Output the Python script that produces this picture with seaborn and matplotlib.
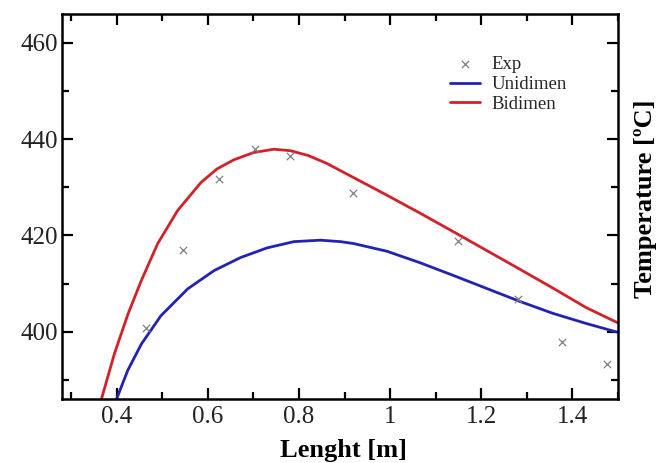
import matplotlib
matplotlib.use("Agg")
import matplotlib.pyplot as plt
import seaborn as sns
import pandas as pd
from matplotlib.ticker import MultipleLocator, FixedLocator

# ---- data ----
exp_x = [0.464, 0.545, 0.624, 0.703, 0.781, 0.919, 1.149, 1.280, 1.378, 1.476]
exp_y = [400.8, 417.0, 431.7, 438.0, 436.5, 428.8, 418.9, 406.8, 397.9, 393.2]

uni_x = [0.399, 0.424, 0.454, 0.497, 0.556, 0.614, 0.672, 0.730, 0.789, 0.847,
         0.891, 0.920, 0.993, 1.066, 1.138, 1.211, 1.284, 1.357, 1.430, 1.498]
uni_y = [385.8, 391.9, 397.4, 403.3, 408.9, 412.7, 415.4, 417.4, 418.7, 419.0,
         418.7, 418.3, 416.7, 414.3, 411.7, 409.0, 406.3, 403.8, 401.7, 399.9]

bi_x = [0.366, 0.395, 0.425, 0.454, 0.490, 0.534, 0.585, 0.620, 0.657, 0.700,
        0.745, 0.781, 0.820, 0.860, 0.900, 0.950, 0.990, 1.066, 1.138, 1.211,
        1.284, 1.358, 1.430, 1.498]
bi_y = [385.8, 395.4, 403.7, 410.6, 418.3, 425.2, 431.0, 433.8, 435.7, 437.2,
        437.9, 437.6, 436.6, 435.0, 433.0, 430.5, 428.5, 424.6, 420.8, 416.9,
        413.0, 409.0, 405.0, 401.9]

x_ticks = [0.4, 0.6, 0.8, 1.0, 1.2, 1.4]
x_tick_labels = ["0.4", "0.6", "0.8", "1", "1.2", "1.4"]
y_ticks = [400, 420, 440, 460]
y_tick_labels = ["400", "420", "440", "460"]

sns.set_theme(style="white")
plt.rcParams["font.family"] = ["Liberation Serif", "DejaVu Serif"]

fig = plt.figure(figsize=(6.64, 4.63), dpi=100)
ax = fig.add_axes([62 / 664, 64 / 463, 556 / 664, 385 / 463])

df_exp = pd.DataFrame({"x": exp_x, "y": exp_y})
df_uni = pd.DataFrame({"x": uni_x, "y": uni_y})
df_bi = pd.DataFrame({"x": bi_x, "y": bi_y})

red = "#d42028"
blue = "#2222b4"

sns.lineplot(data=df_uni, x="x", y="y", ax=ax, color=blue, lw=2.0,
             label="Unidimen", sort=False, zorder=2)
sns.lineplot(data=df_bi, x="x", y="y", ax=ax, color=red, lw=2.0,
             label="Bidimen", sort=False, zorder=2)
sns.scatterplot(data=df_exp, x="x", y="y", ax=ax, marker="x", color="#808080",
                s=28, linewidth=0.9, label="Exp", zorder=3)

ax.set_xlim(0.28, 1.5)
ax.set_ylim(386, 466)

ax.xaxis.set_major_locator(FixedLocator(x_ticks))
ax.set_xticklabels(x_tick_labels)
ax.xaxis.set_minor_locator(MultipleLocator(0.1))
ax.yaxis.set_major_locator(FixedLocator(y_ticks))
ax.set_yticklabels(y_tick_labels)
ax.yaxis.set_minor_locator(MultipleLocator(10))

ax.tick_params(which="both", direction="in", top=True, right=True,
               bottom=True, left=True, color="black", width=1.6)
ax.tick_params(which="major", length=8)
ax.tick_params(which="minor", length=5)
ax.tick_params(axis="both", which="major", labelsize=18, labelcolor="#222222")
ax.tick_params(axis="y", pad=3)
ax.tick_params(axis="x", pad=5)

for s in ax.spines.values():
    s.set_visible(True)
    s.set_color("black")
    s.set_linewidth(1.8)

ax.set_xlabel("Lenght [m]", fontsize=19, fontweight="bold", color="black")
ax.xaxis.set_label_coords(0.506, -0.105)
ax.yaxis.set_label_position("right")
ax.set_ylabel("Temperature [ºC]", fontsize=19, fontweight="bold",
              color="black", rotation=90)
ax.yaxis.set_label_coords(1.028, 0.52)

handles, labels = ax.get_legend_handles_labels()
order = ["Exp", "Unidimen", "Bidimen"]
hmap = dict(zip(labels, handles))
leg = ax.legend([hmap[k] for k in order], order, loc="upper left",
                bbox_to_anchor=(0.675, 0.925), frameon=False, fontsize=13.5,
                handlelength=1.6, handletextpad=0.6, labelspacing=0.15,
                borderpad=0.2)

fig.savefig("out.png", dpi=100)
